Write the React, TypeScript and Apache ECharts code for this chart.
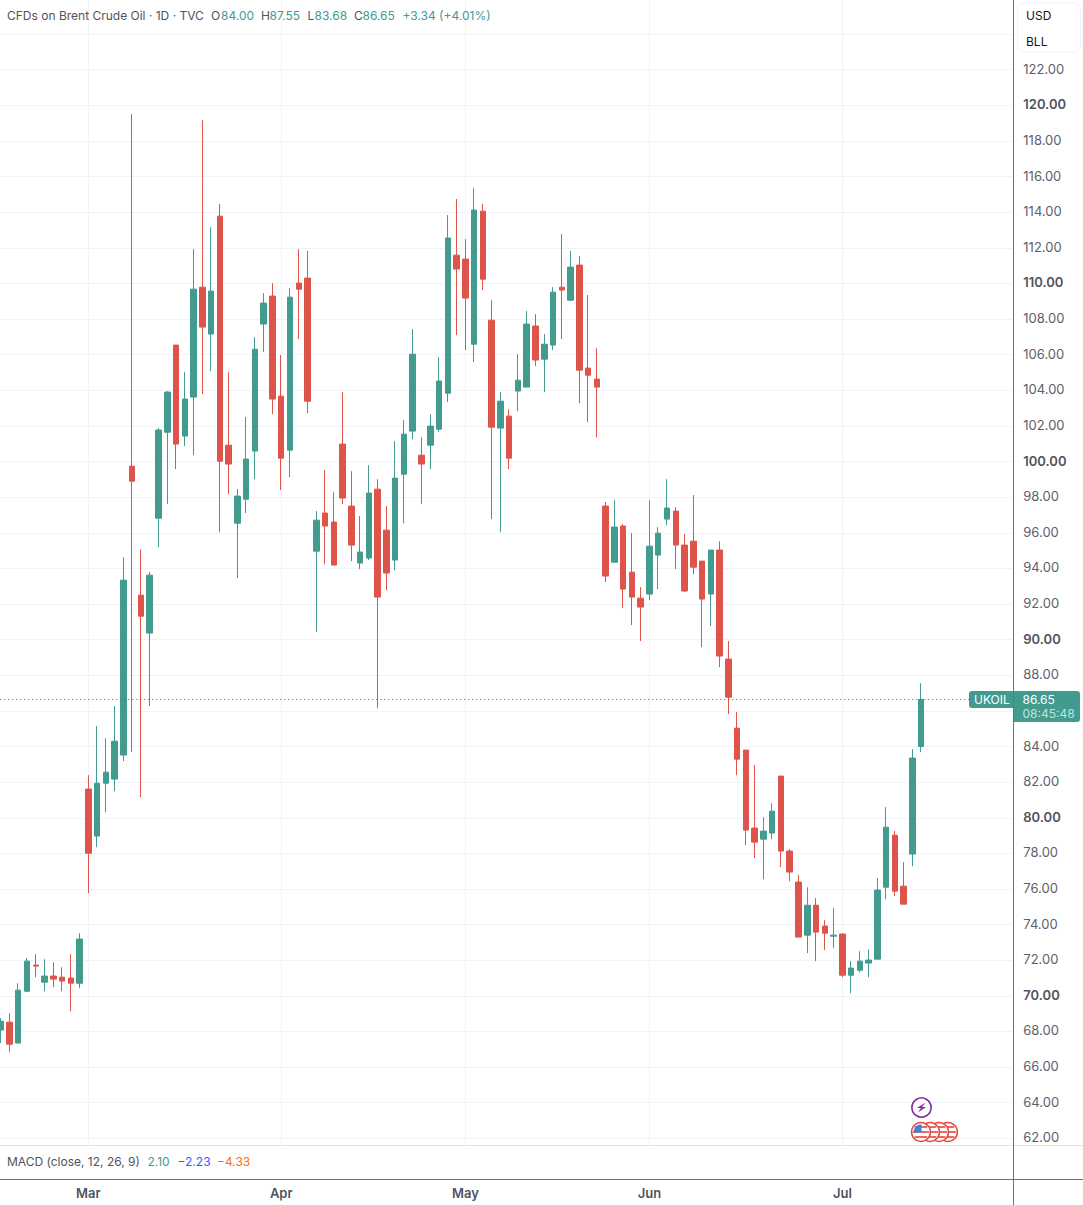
import React, { useEffect, useRef } from "react";
import * as echarts from "echarts";

const UP = "#419b8f";
const DOWN = "#df544a";
const GRID = "#f0f3fa";
const AXIS = "#6e717b";
const FONT = "Inter, 'Noto Sans', sans-serif";

const opens = [
  68.08, 68.52, 67.35, 70.26, 71.73, 70.77, 71.11, 71.05, 71.0, 70.71,
  81.61, 78.97, 81.94, 82.17, 83.52, 99.74, 92.5, 90.37, 96.82, 101.65,
  106.54, 101.43, 103.62, 109.79, 107.16, 113.78, 100.92, 96.54, 97.89, 100.59,
  107.72, 109.29, 103.67, 100.64, 110.02, 110.3, 94.97, 97.11, 96.6, 100.98,
  97.5, 94.3, 94.58, 98.45, 96.15, 94.47, 99.29, 101.71, 100.36, 100.92,
  101.82, 103.84, 111.59, 111.37, 106.59, 114.06, 107.94, 101.88, 102.55, 103.96,
  104.18, 107.61, 105.75, 106.54, 109.79, 109.06, 111.03, 105.25, 104.63, 97.5,
  94.35, 96.38, 93.79, 92.33, 92.56, 94.75, 96.77, 97.22, 95.31, 95.53,
  94.41, 92.56, 95.03, 88.91, 85.03, 83.8, 79.42, 78.8, 79.14, 82.34,
  78.13, 76.39, 73.41, 75.09, 73.92, 73.35, 73.47, 71.16, 71.44, 71.84,
  72.06, 76.1, 79.02, 76.16, 77.96, 84.0,
];
const closes = [
  68.58, 67.29, 70.32, 71.95, 71.67, 71.11, 70.94, 70.83, 70.71, 73.19,
  78.01, 81.94, 82.56, 84.3, 93.34, 98.9, 91.32, 93.62, 101.77, 103.9,
  100.98, 103.51, 109.68, 107.55, 109.57, 100.02, 99.86, 98.06, 100.14, 106.31,
  108.9, 103.51, 100.19, 109.23, 109.68, 103.39, 96.71, 96.38, 94.19, 97.95,
  95.31, 94.92, 98.23, 92.39, 93.74, 99.07, 101.54, 106.03, 99.86, 101.99,
  104.52, 112.55, 110.81, 109.18, 114.12, 110.24, 101.93, 103.39, 100.19, 104.57,
  107.72, 105.7, 106.59, 109.51, 109.63, 110.92, 105.13, 104.85, 104.18, 93.57,
  96.32, 92.84, 92.39, 91.83, 95.25, 95.98, 97.39, 95.31, 92.73, 94.07,
  92.28, 95.03, 89.08, 86.77, 83.29, 79.31, 78.63, 79.25, 80.37, 78.13,
  76.95, 73.3, 75.09, 73.58, 73.52, 73.41, 71.16, 71.56, 71.95, 72.01,
  75.94, 79.47, 75.88, 75.15, 83.35, 86.65,
];
const lows = [
  67.35, 66.84, 67.35, 70.21, 71.05, 70.26, 70.49, 70.26, 69.14, 70.43,
  75.77, 78.35, 80.32, 81.49, 83.18, 83.69, 81.16, 86.27, 95.2, 97.61,
  99.58, 100.87, 100.36, 103.79, 105.08, 96.04, 98.17, 93.46, 97.11, 99.01,
  106.15, 102.66, 98.4, 99.13, 106.88, 102.72, 90.42, 94.24, 94.19, 97.61,
  94.41, 93.96, 94.47, 86.16, 92.78, 93.9, 96.54, 101.26, 97.61, 99.58,
  101.65, 103.34, 107.1, 106.26, 105.58, 109.63, 96.77, 96.04, 99.58, 102.83,
  104.18, 105.36, 103.9, 106.26, 106.88, 109.01, 103.28, 102.21, 101.37, 93.23,
  94.35, 91.77, 90.82, 89.92, 92.22, 92.84, 96.43, 93.96, 92.67, 93.68,
  89.58, 90.76, 88.46, 85.82, 82.39, 78.46, 77.73, 76.55, 78.8, 77.23,
  76.44, 73.3, 72.4, 71.95, 72.57, 72.68, 71.05, 70.15, 71.33, 71.05,
  72.06, 75.43, 75.6, 75.15, 77.28, 83.68,
];
const highs = [
  68.75, 69.03, 70.71, 72.12, 72.34, 72.06, 71.89, 71.61, 72.34, 73.52,
  82.39, 85.15, 84.47, 86.27, 94.63, 119.51, 95.08, 93.79, 101.88, 103.96,
  106.54, 105.02, 111.93, 119.17, 113.16, 114.46, 105.02, 98.45, 102.5, 106.99,
  109.46, 110.02, 105.98, 109.74, 111.93, 111.82, 97.22, 99.52, 98.28, 103.9,
  99.46, 96.94, 99.8, 99.01, 97.5, 101.15, 102.33, 107.44, 101.37, 102.66,
  105.86, 113.84, 114.74, 112.49, 115.35, 114.46, 109.06, 103.9, 102.94, 106.03,
  108.45, 108.28, 107.16, 109.79, 112.77, 111.82, 111.54, 109.35, 106.37, 97.72,
  97.83, 96.49, 95.98, 92.95, 97.83, 96.32, 99.01, 97.44, 95.93, 98.12,
  94.41, 95.03, 95.53, 89.92, 85.93, 83.8, 82.96, 80.04, 80.82, 82.34,
  78.24, 76.78, 76.1, 75.49, 74.25, 74.93, 73.52, 71.95, 72.51, 72.62,
  76.61, 80.6, 79.25, 77.51, 83.85, 87.55,
];

const monthIndexes = [10, 32, 53, 74, 96];
const monthLabels = ["Mar", "Apr", "May", "Jun", "Jul"];
const totalBars = 116;
const categories = Array.from({ length: totalBars }, (_, i) => {
  const m = monthIndexes.indexOf(i);
  return m >= 0 ? monthLabels[m] : `d${i}`;
});
const hiddenPriceTicks = [60, 86, 124, 126];
const lastPrice = 86.65;
const countdown = "08:45:48";

// the canvas sticks out of the page by this much, so that the first candle is cut off
const OFFSET_X = 4;
const OFFSET_Y = 2;

const Z = 100;
const text = (
  x: number,
  y: number,
  s: string,
  fill: string,
  font = `12px ${FONT}`,
  align = "left"
) => ({
  type: "text",
  z: Z + 2,
  style: { x, y, text: s, fill, font, align, verticalAlign: "middle" },
});
const rect = (x: number, y: number, width: number, height: number, fill: string, r: any = 0, stroke?: string) => ({
  type: "rect",
  z: Z,
  shape: { x, y, width, height, r },
  style: { fill, stroke, lineWidth: stroke ? 1 : 0 },
});
const hline = (x1: number, x2: number, y: number, stroke: string) => ({
  type: "line",
  z: Z + 1,
  shape: { x1, y1: y, x2, y2: y },
  style: { stroke, lineWidth: 1 },
});

const flag = (cx: number, cy: number, canton: boolean) => {
  const els: any[] = [
    {
      type: "circle",
      z: Z + 3,
      shape: { cx, cy, r: 9.4 },
      style: { fill: "#ffffff", stroke: "#e8453c", lineWidth: 1.6 },
    },
  ];
  [-5, 0, 5].forEach((dy) => {
    const half = Math.sqrt(Math.max(0, 64 - dy * dy));
    els.push({
      type: "rect",
      z: Z + 3,
      shape: { x: cx - half, y: cy + dy - 1, width: half * 2, height: 2 },
      style: { fill: "#ec6a62" },
    });
  });
  if (canton) {
    els.push({
      type: "sector",
      z: Z + 4,
      shape: { cx: cx + 0.5, cy: cy + 0.5, r: 8.2, r0: 0, startAngle: Math.PI, endAngle: Math.PI * 1.5, clockwise: true },
      style: { fill: "#3d83dc" },
    });
  }
  return els;
};

export default function App() {
  const ref = useRef<HTMLDivElement>(null);
  useEffect(() => {
    document.body.style.margin = "0";
    document.body.style.overflow = "hidden";
    const chart = echarts.init(ref.current!, undefined, { renderer: "svg" });
    const barData = opens.map((o, i) => [o, closes[i], lows[i], highs[i]]);
    const last = opens.length - 1;
    const gray = "#50535e";
    const elements: any[] = [
      // MACD pane mask and separators
      rect(0, 1146, 1083, 33, "#ffffff"),
      hline(0, 1083, 1145.5, "#e0e3eb"),
      hline(0, 1083, 1179.5, AXIS),
      { type: "line", z: Z + 1, shape: { x1: 1013.5, y1: 0, x2: 1013.5, y2: 1205 }, style: { stroke: AXIS, lineWidth: 1 } },
      // legend
      text(7, 15, "CFDs on Brent Crude Oil · 1D · TVC", gray),
      text(211, 15, "O", gray),
      text(221, 15, opens[last].toFixed(2), UP),
      text(261, 15, "H", gray),
      text(269.5, 15, highs[last].toFixed(2), UP),
      text(307.5, 15, "L", gray),
      text(314.5, 15, lows[last].toFixed(2), UP),
      text(354, 15, "C", gray),
      text(362.5, 15, closes[last].toFixed(2), UP),
      text(402.5, 15, "+3.34 (+4.01%)", UP),
      // unit box
      rect(1017.5, 3, 63, 49, "#ffffff", 6, GRID),
      text(1026, 15.5, "USD", "#131722"),
      text(1026, 41, "BLL", "#131722"),
      // MACD legend
      text(7, 1161.5, "MACD (close, 12, 26, 9)", gray),
      text(147.5, 1161.5, "2.10", UP),
      text(177.5, 1161.5, "−2.23", "#2962ff"),
      text(217, 1161.5, "−4.33", "#ff6d00"),
      // price tag
      rect(969, 691, 45, 17, UP, [3, 0, 0, 3]),
      rect(1013, 691, 67, 31, UP, [0, 3, 3, 0]),
      text(974, 699.5, "UKOIL", "#ffffff"),
      text(1022.5, 699.5, lastPrice.toFixed(2), "#ffffff"),
      text(1022.5, 713.5, countdown, "#c4e3de"),
      // event markers
      ...flag(948, 1132, false),
      ...flag(939, 1132, false),
      ...flag(930, 1132, false),
      ...flag(921, 1132, true),
      {
        type: "circle",
        z: Z + 3,
        shape: { cx: 921.5, cy: 1107.5, r: 9.6 },
        style: { fill: "#ffffff", stroke: "#7e2d9c", lineWidth: 1.6 },
      },
      {
        type: "polygon",
        z: Z + 4,
        shape: {
          points: [
            [925.5, 1102.5],
            [917, 1108],
            [921, 1108],
            [918, 1112.5],
            [926, 1107],
            [922, 1107],
          ],
        },
        style: { fill: "#7e2d9c" },
      },
    ];

    chart.setOption({
      animation: false,
      backgroundColor: "#ffffff",
      grid: { left: 0.3, top: 0.5, width: 1017, height: 1175.46, containLabel: false },
      xAxis: {
        type: "category",
        data: categories,
        boundaryGap: true,
        axisLine: { show: false },
        axisTick: { show: false },
        axisLabel: {
          interval: (i: number) => monthIndexes.includes(i),
          margin: 12.5,
          color: gray,
          fontFamily: FONT,
          fontSize: 13,
          fontWeight: 600,
          hideOverlap: false,
        },
        splitLine: {
          show: true,
          alignWithLabel: true,
          interval: (i: number) => monthIndexes.includes(i),
          lineStyle: { color: GRID, width: 1 },
        },
      },
      yAxis: {
        type: "value",
        position: "right",
        min: 60,
        max: 126,
        interval: 2,
        axisLine: { show: false },
        axisTick: { show: false },
        splitLine: { show: true, lineStyle: { color: GRID, width: 1 } },
        axisLabel: {
          margin: 10,
          color: "#5d606b",
          fontFamily: FONT,
          fontSize: 13,
          padding: [0, 0, 2, 0],
          formatter: (v: number) =>
            hiddenPriceTicks.includes(v) ? "" : v % 10 === 0 ? `{b|${v.toFixed(2)}}` : v.toFixed(2),
          rich: { b: { fontFamily: FONT, fontSize: 13, fontWeight: 600, color: gray } },
        },
      },
      series: [
        {
          type: "candlestick",
          data: barData,
          barWidth: 6,
          itemStyle: { color: UP, color0: DOWN, borderColor: UP, borderColor0: DOWN, borderWidth: 1 },
          markLine: {
            silent: true,
            symbol: "none",
            label: { show: false },
            lineStyle: { color: "#3f6f68", type: [1, 3], width: 1 },
            data: [{ yAxis: lastPrice }],
          },
        },
      ],
      graphic: { elements: [{ type: "group", x: OFFSET_X, y: OFFSET_Y, children: elements }] },
    });
    return () => chart.dispose();
  }, []);
  return (
    <div
      ref={ref}
      style={{ position: "absolute", left: -OFFSET_X, top: -OFFSET_Y, width: 1083 + OFFSET_X, height: 1205 + OFFSET_Y }}
    />
  );
}
